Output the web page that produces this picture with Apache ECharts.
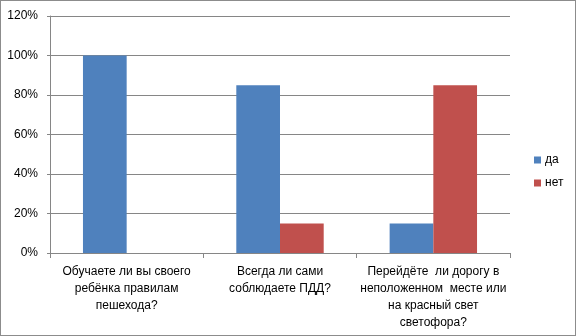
<!DOCTYPE html>
<html><head><meta charset="utf-8">
<script src="https://cdn.jsdelivr.net/npm/echarts@6/dist/echarts.min.js"></script>
<style>html,body{margin:0;padding:0;background:#fff}#c{width:576px;height:336px;box-sizing:border-box;border:1px solid #8c8c8c}</style>
</head><body><div id="c"></div>
<script>
const categories = [
  "Обучаете ли вы своего\nребёнка правилам\nпешехода?",
  "Всегда ли сами\nсоблюдаете ПДД?",
  "Перейдёте  ли дорогу в\nнеположенном  месте или\nна красный свет\nсветофора?"
];
const seriesNames = ["да", "нет"];
const yesValues = [100, 85, 15];
const noValues = [0, 15, 85];
const colors = ["#4f81bd", "#c0504d"];

const chart = echarts.init(document.getElementById('c'), null, {renderer: 'canvas'});
const font = "'Liberation Sans', Arial, sans-serif";
chart.setOption({
  animation: false,
  color: colors,
  grid: {left: 49, right: 65, top: 15, bottom: 82, containLabel: false},
  legend: {
    orient: 'vertical', left: 528, top: 148,
    itemWidth: 7, itemHeight: 7, itemGap: 11,
    icon: 'rect',
    textStyle: {fontFamily: font, fontSize: 12, color: '#000', padding: [0,0,0,-1]},
    data: seriesNames
  },
  xAxis: {
    type: 'category', data: categories,
    axisLine: {lineStyle: {color: '#868686'}},
    axisTick: {show: true, length: 5, lineStyle: {color: '#868686'}},
    axisLabel: {fontFamily: font, fontSize: 12, color: '#000', lineHeight: 17, margin: 10, interval: 0}
  },
  yAxis: {
    type: 'value', min: 0, max: 120, interval: 20,
    axisLine: {show: true, lineStyle: {color: '#868686'}},
    axisTick: {show: true, length: 3, lineStyle: {color: '#868686'}},
    splitLine: {lineStyle: {color: '#868686'}},
    axisLabel: {fontFamily: font, fontSize: 12, color: '#000', formatter: '{value}%', margin: 12}
  },
  series: [
    {name: seriesNames[0], type: 'bar', data: yesValues, barGap: '0%', barCategoryGap: '43%'},
    {name: seriesNames[1], type: 'bar', data: noValues, barGap: '0%', barCategoryGap: '43%'}
  ]
});
</script></body></html>
